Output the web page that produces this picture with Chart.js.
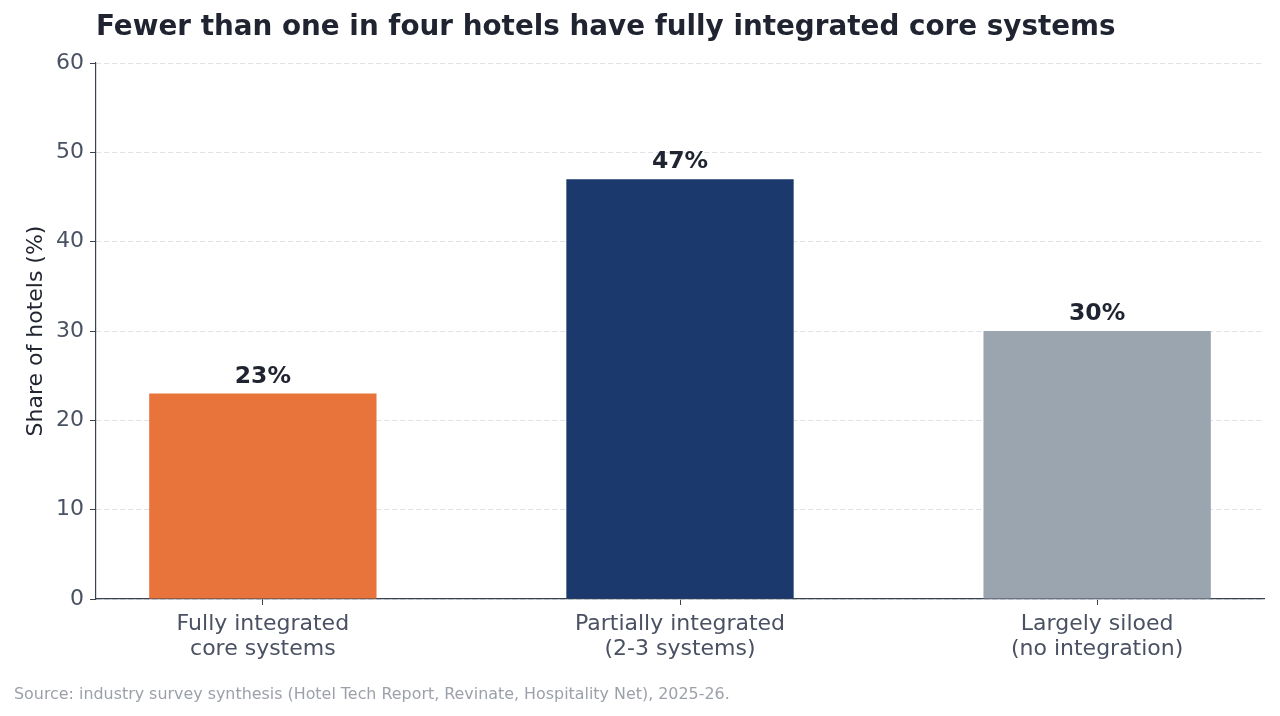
<!DOCTYPE html>
<html>
<head>
<meta charset="utf-8">
<script src="https://cdn.jsdelivr.net/npm/chart.js@4"></script>
<style>
html,body{margin:0;padding:0;background:#fff;}
#wrap{width:1280px;height:716px;position:relative;}
</style>
</head>
<body>
<div id="wrap"><canvas id="c" width="1280" height="716"></canvas></div>
<script>
const categories = [["Fully integrated","core systems"],["Partially integrated","(2-3 systems)"],["Largely siloed","(no integration)"]];
const values = [23, 47, 30];
const barColors = ["#E8743B", "#1B396D", "#9AA5B0"];
const yTicks = [0, 10, 20, 30, 40, 50, 60];
const titleText = "Fewer than one in four hotels have fully integrated core systems";
const yTitle = "Share of hotels (%)";
const sourceText = "Source: industry survey synthesis (Hotel Tech Report, Revinate, Hospitality Net), 2025-26.";

const FONT = "'DejaVu Sans', sans-serif";

const textPlugin = {
  id: 'texts',
  afterDraw(chart) {
    const ctx = chart.ctx;
    ctx.save();
    ctx.textAlign = 'left';
    ctx.textBaseline = 'alphabetic';
    ctx.fillStyle = '#1F2430';
    ctx.font = "bold 27.8px " + FONT;
    ctx.fillText(titleText, 96, 35);
    ctx.fillStyle = '#9CA1A9';
    ctx.font = "15.9px " + FONT;
    ctx.fillText(sourceText, 14, 699);
    ctx.restore();
  }
};

const labelPlugin = {
  id: 'barLabels',
  afterDatasetsDraw(chart) {
    const ctx = chart.ctx;
    const meta = chart.getDatasetMeta(0);
    ctx.save();
    ctx.textAlign = 'center';
    ctx.textBaseline = 'bottom';
    ctx.fillStyle = '#1F2430';
    ctx.font = "bold 23.5px " + FONT;
    meta.data.forEach((el, i) => {
      ctx.fillText(values[i] + '%', el.x, el.y - 5);
    });
    ctx.restore();
  }
};

new Chart(document.getElementById('c'), {
  type: 'bar',
  data: {
    datasets: [{
      data: values.map((v, i) => ({x: i, y: v})),
      backgroundColor: barColors,
      borderWidth: 0,
      barPercentage: 0.545,
      categoryPercentage: 1.0
    }]
  },
  options: {
    responsive: false,
    animation: false,
    devicePixelRatio: 1,
    layout: { padding: { left: 0, right: 16, top: 63, bottom: 47 } },
    plugins: { legend: { display: false }, tooltip: { enabled: false }, title: { display: false } },
    scales: {
      x: {
        type: 'linear',
        min: -0.4,
        max: 2.4,
        offset: false,
        afterBuildTicks(scale) { scale.ticks = categories.map((_, i) => ({value: i})); },
        afterFit(scale) { scale.height = 70; },
        ticks: {
          callback(v) { return categories[v] || ''; },
          font: { family: FONT, size: 22, lineHeight: 1.17 },
          color: '#4A5162',
          padding: 6,
          maxRotation: 0,
          autoSkip: false
        },
        grid: { offset: false, drawOnChartArea: false, drawTicks: true, tickLength: 6, tickColor: '#3B4250', tickWidth: 1 },
        border: { display: true, color: '#3B4250', width: 1.2 }
      },
      y: {
        min: 0,
        max: 60,
        afterBuildTicks(scale) { scale.ticks = yTicks.map(v => ({value: v})); },
        afterFit(scale) { scale.width = 96; },
        ticks: {
          font: { family: FONT, size: 22 },
          color: '#4A5162',
          padding: 6
        },
        grid: { color: '#DDE2E7', lineWidth: 1, drawTicks: true, tickLength: 6, tickColor: '#3B4250', tickBorderDash: [], tickWidth: 1 },
        border: { display: true, color: '#3B4250', width: 1.2, dash: [5, 3] },
        title: {
          display: true,
          text: yTitle,
          font: { family: FONT, size: 22 },
          color: '#222630',
          padding: { top: 23, bottom: 0 }
        }
      }
    }
  },
  plugins: [textPlugin, labelPlugin]
});
</script>
</body>
</html>
